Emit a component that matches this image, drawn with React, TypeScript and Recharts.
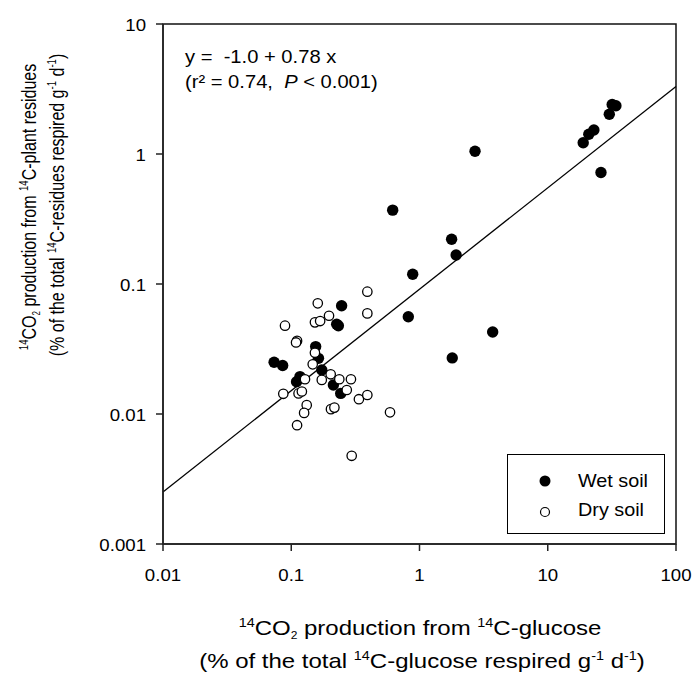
import { ScatterChart, Scatter, XAxis, YAxis, ReferenceLine, ReferenceArea, Legend } from "recharts";

// values
const wetX = [31.8, 34.0, 30.2, 22.9, 20.9, 18.9, 26.0, 2.71, 0.618, 1.78, 1.93, 0.885, 0.818, 3.72, 1.8,
  0.247, 0.233, 0.226, 0.155, 0.163, 0.173, 0.213, 0.243, 0.0735, 0.0857, 0.11, 0.117];
const wetY = [2.4, 2.35, 2.02, 1.53, 1.42, 1.22, 0.72, 1.05, 0.37, 0.221, 0.167, 0.119, 0.056, 0.0427, 0.027,
  0.068, 0.0477, 0.049, 0.033, 0.0268, 0.0218, 0.0167, 0.0144, 0.025, 0.0236, 0.0177, 0.0194];

const dryX = [0.392, 0.392, 0.161, 0.197, 0.153, 0.168, 0.153, 0.147, 0.203, 0.173, 0.237, 0.292, 0.271, 0.337,
  0.392, 0.204, 0.217, 0.589, 0.296, 0.0894, 0.111, 0.109, 0.128, 0.0867, 0.114, 0.121, 0.132, 0.126, 0.111];
const dryY = [0.0873, 0.0594, 0.071, 0.057, 0.0507, 0.0519, 0.0296, 0.0241, 0.0202, 0.0183, 0.0185, 0.0185, 0.0153, 0.013,
  0.014, 0.0109, 0.0112, 0.0103, 0.00477, 0.0478, 0.0365, 0.0355, 0.0185, 0.0143, 0.0144, 0.0149, 0.0117, 0.0102, 0.0082];

const xTicks = [0.01, 0.1, 1, 10, 100];
const yTicks = [0.001, 0.01, 0.1, 1, 10];

// fitted line in log space: log y = a + b log x
const fitA = -1.04;
const fitB = 0.78;

const wet = wetX.map((x, i) => ({ x, y: wetY[i] }));
const dry = dryX.map((x, i) => ({ x, y: dryY[i] }));
const fitAt = (x: number) => Math.pow(10, fitA + fitB * Math.log10(x));
const fitSeg = [
  { x: xTicks[0], y: fitAt(xTicks[0]) },
  { x: xTicks[xTicks.length - 1], y: fitAt(xTicks[xTicks.length - 1]) },
];

const FONT = '"Liberation Sans", Arial, sans-serif';
const SX = 1.13;

const XTick = (props: any) => {
  const { x, y, payload } = props;
  return (
    <g transform={`translate(${x},${y})`}>
      <text transform={`scale(${SX},1)`} y={30} textAnchor="middle" fontSize={16.5} fontFamily={FONT} fill="#000">
        {String(payload.value)}
      </text>
    </g>
  );
};

const YTick = (props: any) => {
  const { x, y, payload } = props;
  return (
    <g transform={`translate(${x},${y})`}>
      <text transform={`scale(${SX},1)`} y={6.5} textAnchor="end" fontSize={16.5} fontFamily={FONT} fill="#000">
        {String(payload.value)}
      </text>
    </g>
  );
};

const filled = (p: any) => <circle cx={p.cx} cy={p.cy} r={5.7} fill="#000" />;
const hollow = (p: any) => <circle cx={p.cx} cy={p.cy} r={4.7} fill="#fff" stroke="#000" strokeWidth={1.3} />;

const LegendBox = () => (
  <svg width={159} height={81} style={{ display: "block" }}>
    <rect x={0.5} y={0.5} width={157} height={79} fill="#fff" stroke="#000" strokeWidth={1} />
    <circle cx={38} cy={27} r={5.5} fill="#000" />
    <circle cx={38} cy={58} r={4.5} fill="#fff" stroke="#000" strokeWidth={1.2} />
    <g transform="translate(71,33) scale(1.1,1)">
      <text fontSize={18} fontFamily={FONT}>Wet soil</text>
    </g>
    <g transform="translate(71,62) scale(1.1,1)">
      <text fontSize={18} fontFamily={FONT}>Dry soil</text>
    </g>
  </svg>
);

export default function App() {
  return (
    <div style={{ position: "absolute", left: 0, top: 0, width: 695, height: 677, background: "#fff" }}>
      <ScatterChart width={695} height={677} margin={{ top: 24, right: 19, bottom: 73, left: 103 }}>
        <XAxis
          dataKey="x"
          type="number"
          scale="log"
          domain={[0.01, 100]}
          ticks={xTicks}
          allowDataOverflow
          height={60}
          stroke="#222"
          strokeWidth={1.5}
          tickSize={7}
          tickMargin={0}
          tick={<XTick />}
        />
        <YAxis
          dataKey="y"
          type="number"
          scale="log"
          domain={[0.001, 10]}
          ticks={yTicks}
          allowDataOverflow
          width={60}
          stroke="#222"
          strokeWidth={1.5}
          tickSize={7}
          tickMargin={10}
          tick={<YTick />}
        />
        <ReferenceArea x1={0.01} x2={100} y1={0.001} y2={10} fill="none" stroke="#111" strokeWidth={1.5} ifOverflow="visible" />
        <ReferenceLine segment={fitSeg} stroke="#000" strokeWidth={1.3} />
        <Scatter name="Wet soil" data={wet} shape={filled} isAnimationActive={false} />
        <Scatter name="Dry soil" data={dry} shape={hollow} isAnimationActive={false} />
        <Legend
          layout="vertical"
          align="center"
          verticalAlign="middle"
          wrapperStyle={{ left: 507, top: 454, width: 159, height: 81 }}
          content={() => <LegendBox />}
        />
      </ScatterChart>

      <svg width={695} height={677} style={{ position: "absolute", left: 0, top: 0, pointerEvents: "none" }} fontFamily={FONT}>
        {/* equation */}
        <g transform={`translate(185,63) scale(1.12,1)`}>
          <text fontSize={18} style={{ whiteSpace: "pre" }}>y =  -1.0 + 0.78 x</text>
        </g>
        <g transform={`translate(185,88) scale(1.12,1)`}>
          <text fontSize={18} style={{ whiteSpace: "pre" }}>
            (r² = 0.74,  <tspan fontStyle="italic">P</tspan> &lt; 0.001)
          </text>
        </g>

        {/* x title */}
        <g transform="translate(420,635) scale(1.2,1)">
          <text textAnchor="middle" fontSize={20}>
            <tspan fontSize={12} dy={-8}>14</tspan>
            <tspan dy={8}>CO</tspan>
            <tspan fontSize={10} dy={4}>2</tspan>
            <tspan dy={-4}> production from </tspan>
            <tspan fontSize={12} dy={-8}>14</tspan>
            <tspan dy={8}>C-glucose</tspan>
          </text>
        </g>
        <g transform="translate(422,668) scale(1.2,1)">
          <text textAnchor="middle" fontSize={20}>
            <tspan>(% of the total </tspan>
            <tspan fontSize={12} dy={-8}>14</tspan>
            <tspan dy={8}>C-glucose respired g</tspan>
            <tspan fontSize={12} dy={-8}>-1</tspan>
            <tspan dy={8}> d</tspan>
            <tspan fontSize={12} dy={-8}>-1</tspan>
            <tspan dy={8}>)</tspan>
          </text>
        </g>

        {/* y title */}
        <g transform="translate(36,207) rotate(-90) scale(0.8,1)">
          <text textAnchor="middle" fontSize={20}>
            <tspan fontSize={12} dy={-8}>14</tspan>
            <tspan dy={8}>CO</tspan>
            <tspan fontSize={10} dy={4}>2</tspan>
            <tspan dy={-4}> production from </tspan>
            <tspan fontSize={12} dy={-8}>14</tspan>
            <tspan dy={8}>C-plant residues</tspan>
          </text>
        </g>
        <g transform="translate(64,205) rotate(-90) scale(0.8,1)">
          <text textAnchor="middle" fontSize={20}>
            <tspan>(% of the total </tspan>
            <tspan fontSize={12} dy={-8}>14</tspan>
            <tspan dy={8}>C-residues respired g</tspan>
            <tspan fontSize={12} dy={-8}>-1</tspan>
            <tspan dy={8}> d</tspan>
            <tspan fontSize={12} dy={-8}>-1</tspan>
            <tspan dy={8}>)</tspan>
          </text>
        </g>
      </svg>
    </div>
  );
}
